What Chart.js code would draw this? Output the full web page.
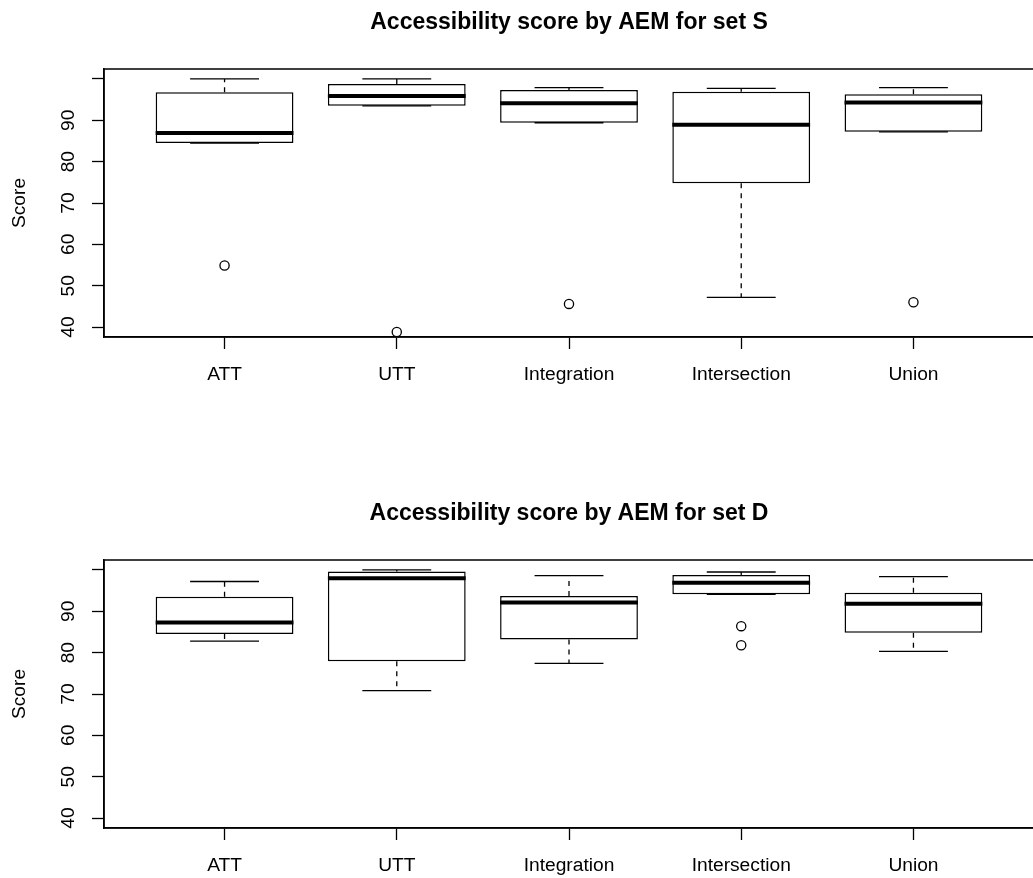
<!DOCTYPE html>
<html>
<head>
<meta charset="utf-8">
<script src="https://cdn.jsdelivr.net/npm/chart.js@4.4.1/dist/chart.umd.min.js"></script>
<style>
html, body { margin:0; padding:0; background:#fff; overflow:hidden; width:1033px; height:878px; }
.wrap { position:absolute; left:0; width:1040px; height:387px; }
</style>
</head>
<body>
<div class="wrap" style="top:0px"><canvas id="chartS" width="1040" height="387"></canvas></div>
<div class="wrap" style="top:491px"><canvas id="chartD" width="1040" height="387"></canvas></div>
<script>
// ---------------- DATA ----------------
const categories = ['ATT', 'UTT', 'Integration', 'Intersection', 'Union'];
const yTicks = [40, 50, 60, 70, 80, 90, 100];
const yTickLabels = ['40', '50', '60', '70', '80', '90', ''];
const ylim = [40, 100];

const titleS = 'Accessibility score by AEM for set S';
const lowS  = [84.5, 93.5, 89.4, 47.2, 87.2];
const q1S   = [84.5, 93.5, 89.4, 74.8, 87.2];
const medS  = [86.9, 95.9, 94.1, 88.9, 94.3];
const q3S   = [96.8, 98.8, 97.3, 96.9, 96.3];
const highS = [100.0, 100.0, 97.9, 97.7, 97.9];
const outS  = [[54.9], [38.8], [45.6], [], [46.0]];

const titleD = 'Accessibility score by AEM for set D';
const lowD  = [82.8, 70.8, 77.4, 94.1, 80.3];
const q1D   = [84.5, 77.9, 83.2, 94.1, 84.8];
const medD  = [87.3, 98.0, 92.1, 96.9, 91.8];
const q3D   = [93.5, 99.6, 93.7, 98.8, 94.5];
const highD = [97.2, 100.0, 98.6, 99.5, 98.4];
const outD  = [[], [], [], [86.4, 81.8], []];

// ---------------- STYLE ----------------
const FONT = '"Liberation Sans", Arial, Helvetica, sans-serif';
Chart.defaults.color = '#000';
Chart.defaults.font.family = FONT;

const framePlugin = {
  id: 'frame',
  afterDraw(chart) {
    const { ctx, chartArea: a } = chart;
    ctx.save();
    ctx.strokeStyle = '#000';
    ctx.lineWidth = 1.5;
    ctx.strokeRect(a.left, a.top, a.right - a.left, a.bottom - a.top);
    // rotated y tick labels (R style, parallel to axis)
    const ys = chart.scales.y;
    ctx.fillStyle = '#000';
    ctx.font = '19.2px ' + FONT;
    ctx.textAlign = 'center';
    ctx.textBaseline = 'alphabetic';
    yTicks.forEach((v, i) => {
      const lab = yTickLabels[i];
      if (!lab) return;
      ctx.save();
      ctx.translate(ys.right - 30, ys.getPixelForValue(v));
      ctx.rotate(-Math.PI / 2);
      ctx.fillText(lab, 0, 0);
      ctx.restore();
    });
    ctx.restore();
  }
};

function makeChart(id, title, low, q1, med, q3, high, outs) {
  const n = categories.length;
  const boxes = categories.map((c, i) => ({ x: i + 1, y: [q1[i], q3[i]] }));
  const whiskers = [], caps = [], medians = [], points = [];
  categories.forEach((c, i) => {
    const x = i + 1;
    whiskers.push({ x: x, y: q3[i] }, { x: x, y: high[i] }, { x: x, y: null });
    whiskers.push({ x: x, y: q1[i] }, { x: x, y: low[i] }, { x: x, y: null });
    caps.push({ x: x - 0.2, y: high[i] }, { x: x + 0.2, y: high[i] }, { x: x, y: null });
    caps.push({ x: x - 0.2, y: low[i] }, { x: x + 0.2, y: low[i] }, { x: x, y: null });
    medians.push({ x: x - 0.4, y: med[i] }, { x: x + 0.4, y: med[i] }, { x: x, y: null });
    outs[i].forEach(v => points.push({ x: x, y: v }));
  });
  const ext = (ylim[1] - ylim[0]) * 0.04;
  const xext = n * 0.04;

  return new Chart(document.getElementById(id), {
    type: 'bar',
    data: {
      datasets: [
        { type: 'bar', data: boxes, backgroundColor: '#fff', borderColor: '#000',
          borderWidth: 1.5, borderSkipped: false, barPercentage: 0.8, categoryPercentage: 1, order: 5 },
        { type: 'line', data: whiskers, borderColor: '#000', borderWidth: 1.3, borderDash: [5, 5],
          pointRadius: 0, spanGaps: false, fill: false, order: 3 },
        { type: 'line', data: caps, borderColor: '#000', borderWidth: 1.3,
          pointRadius: 0, spanGaps: false, fill: false, order: 2 },
        { type: 'line', data: medians, borderColor: '#000', borderWidth: 4, borderCapStyle: 'butt',
          pointRadius: 0, spanGaps: false, fill: false, order: 1 },
        { type: 'scatter', data: points, borderColor: '#000', backgroundColor: '#fff',
          pointRadius: 4.6, pointBorderWidth: 1.3, pointStyle: 'circle', order: 0 }
      ]
    },
    options: {
      responsive: false,
      animation: false,
      devicePixelRatio: 1,
      layout: { padding: { left: 0, right: 6, top: 0, bottom: 0 } },
      plugins: {
        legend: { display: false },
        tooltip: { enabled: false },
        title: {
          display: true, text: title, fullSize: false, color: '#000',
          font: { family: FONT, size: 23, weight: 'bold', lineHeight: 1.2 },
          padding: { top: 8.9, bottom: 32.5 }
        }
      },
      scales: {
        x: {
          type: 'linear', offset: false, min: 0.5 - xext, max: n + 0.5 + xext,
          afterBuildTicks: s => { s.ticks = categories.map((c, i) => ({ value: i + 1 })); },
          afterFit: s => { s.height = 50; },
          ticks: {
            autoSkip: false, maxRotation: 0, minRotation: 0, padding: 14.5, color: '#000',
            font: { family: FONT, size: 19.2 },
            callback: v => categories[v - 1] ?? ''
          },
          grid: { display: true, offset: false, drawOnChartArea: false, drawTicks: true, tickLength: 12,
                  tickColor: '#000', tickWidth: 1.3 },
          border: { display: true, color: '#000', width: 1.5 }
        },
        y: {
          type: 'linear', min: ylim[0] - ext, max: ylim[1] + ext,
          afterBuildTicks: s => { s.ticks = yTicks.map(v => ({ value: v })); },
          afterFit: s => { s.width = 104; },
          ticks: { display: false },
          grid: { display: true, drawOnChartArea: false, drawTicks: true, tickLength: 12,
                  tickColor: '#000', tickWidth: 1.3 },
          border: { display: true, color: '#000', width: 1.5 },
          title: { display: true, text: 'Score', color: '#000',
                   font: { family: FONT, size: 19.2, lineHeight: 1.2 },
                   padding: { top: 8.5, bottom: 0 } }
        }
      }
    },
    plugins: [framePlugin]
  });
}

makeChart('chartS', titleS, lowS, q1S, medS, q3S, highS, outS);
makeChart('chartD', titleD, lowD, q1D, medD, q3D, highD, outD);
</script>
</body>
</html>
